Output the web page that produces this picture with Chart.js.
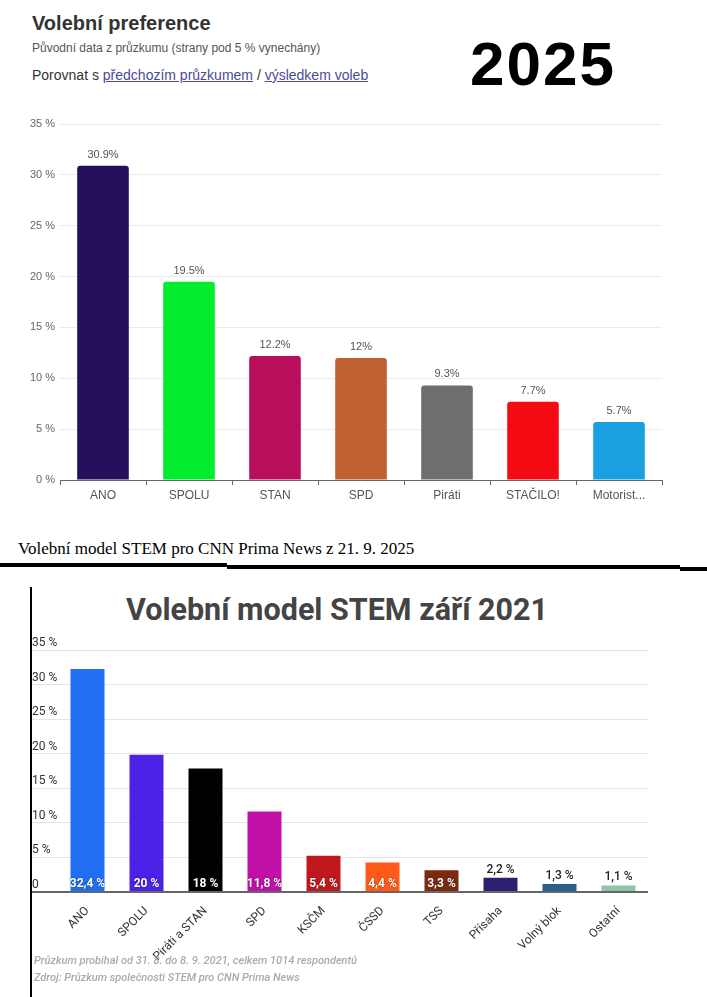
<!DOCTYPE html>
<html>
<head>
<meta charset="utf-8">
<script src="https://cdn.jsdelivr.net/npm/chart.js@4.4.1/dist/chart.umd.min.js"></script>
<style>
  html, body { margin: 0; padding: 0; background: #fff; }
  body { width: 707px; height: 997px; position: relative; overflow: hidden; font-family: "Liberation Sans", Arial, sans-serif; }
  .abs { position: absolute; }
  #title1 { left: 32px; top: 12px; font-size: 20px; font-weight: bold; color: #333; }
  #sub1 { left: 32px; top: 41px; font-size: 12px; color: #555; }
  #cmp1 { left: 32px; top: 67px; font-size: 14px; color: #333; }
  #cmp1 a { color: #4a4a9a; text-decoration: underline; }
  #year { left: 470px; top: 28px; font-size: 62px; font-weight: 900; color: #000; letter-spacing: 2px; }
  #serif { left: 18px; top: 539px; font-family: "Liberation Serif", "DejaVu Serif", serif; font-size: 17px; color: #000; }
  .bar { position: absolute; background: #000; }
  #vline { left: 30px; top: 587px; width: 2px; height: 410px; background: #000; }
  #title2 { left: 0; width: 674px; top: 592px; text-align: center; font-family: Roboto, sans-serif; font-size: 30.5px; font-weight: bold; color: #444; }
  .foot { left: 34px; font-family: Roboto, sans-serif; font-size: 11px; font-style: italic; font-weight: 500; color: #aaa; }
</style>
</head>
<body>
<div id="title1" class="abs">Volební preference</div>
<div id="sub1" class="abs">Původní data z průzkumu (strany pod 5 % vynechány)</div>
<div id="cmp1" class="abs">Porovnat s <a>předchozím průzkumem</a> / <a>výsledkem voleb</a></div>
<div id="year" class="abs">2025</div>
<canvas id="chart2025" class="abs" width="663" height="400" style="left:0;top:110px"></canvas>

<div id="serif" class="abs">Volební model STEM pro CNN Prima News z 21. 9. 2025</div>
<div class="bar" style="left:0;top:563px;width:227px;height:4px"></div>
<div class="bar" style="left:227px;top:565px;width:453px;height:4px"></div>
<div class="bar" style="left:680px;top:567px;width:27px;height:4px"></div>

<div id="vline" class="abs"></div>
<div id="title2" class="abs">Volební model STEM září 2021</div>
<canvas id="chart2021" class="abs" width="660" height="330" style="left:0;top:630px"></canvas>
<div class="abs foot" style="top:954px">Průzkum probíhal od 31. 8. do 8. 9. 2021, celkem 1014 respondentů</div>
<div class="abs foot" style="top:971px">Zdroj: Průzkum společnosti STEM pro CNN Prima News</div>

<script>
// 2025 – Volební preference
const parties2025 = ['ANO', 'SPOLU', 'STAN', 'SPD', 'Piráti', 'STAČILO!', 'Motorist...'];
const values2025 = [30.9, 19.5, 12.2, 12, 9.3, 7.7, 5.7];
const colors2025 = ['#26105c', '#00ec2c', '#b80f5c', '#c06030', '#6e6e6e', '#f50a14', '#1aa0e0'];

// 2021 – Volební model STEM září 2021
const parties2021 = ['ANO', 'SPOLU', 'Piráti a STAN', 'SPD', 'KSČM', 'ČSSD', 'TSS', 'Přísaha', 'Volný blok', 'Ostatní'];
const values2021 = [32.4, 20, 18, 11.8, 5.4, 4.4, 3.3, 2.2, 1.3, 1.1];
const colors2021 = ['#226ef2', '#4b22e6', '#000000', '#c010a8', '#c0181e', '#ff5a1a', '#7a2a10', '#2e1f70', '#2b5e8a', '#90c4a6'];

const yMax = 35;
const yStep = 5;

// simple value labels, no datalabels plugin available offline
const valueLabels = {
  id: 'valueLabels',
  afterDatasetsDraw(chart, args, opts) {
    const ctx = chart.ctx;
    const meta = chart.getDatasetMeta(0);
    const data = chart.data.datasets[0].data;
    ctx.save();
    ctx.textAlign = 'center';
    ctx.textBaseline = 'middle';
    meta.data.forEach((bar, i) => {
      const v = data[i];
      const text = opts.format(v);
      if (opts.inside && v >= opts.inside) {
        ctx.font = 'bold 12px Roboto, sans-serif';
        ctx.fillStyle = '#fff';
        ctx.shadowColor = 'rgba(0,0,0,0.5)';
        ctx.shadowBlur = 2;
        ctx.fillText(text, bar.x, bar.base - 7);
        ctx.shadowBlur = 0;
      } else {
        ctx.font = opts.font;
        ctx.fillStyle = opts.color;
        ctx.fillText(text, bar.x, bar.y - opts.gap);
      }
    });
    ctx.restore();
  }
};

new Chart(document.getElementById('chart2025'), {
  type: 'bar',
  data: {
    labels: parties2025,
    datasets: [{
      data: values2025,
      backgroundColor: colors2025,
      borderRadius: { topLeft: 3, topRight: 3 },
      borderSkipped: 'bottom',
      categoryPercentage: 1,
      barPercentage: 0.6
    }]
  },
  options: {
    responsive: false,
    animation: false,
    devicePixelRatio: 1,
    layout: { padding: { top: 14, left: 0, right: 1, bottom: 0 } },
    plugins: {
      legend: { display: false },
      tooltip: { enabled: false },
      valueLabels: {
        format: v => v + '%',
        font: '11px "Liberation Sans", Arial, sans-serif',
        color: '#555',
        gap: 11
      }
    },
    scales: {
      x: {
        grid: { offset: true, drawOnChartArea: false, tickLength: 5, color: '#666' },
        border: { color: '#666' },
        ticks: { color: '#555', font: { family: '"Liberation Sans", Arial', size: 12 }, padding: 3, maxRotation: 0 },
        afterFit(scale) { scale.height = 30; }
      },
      y: {
        min: 0, max: yMax,
        border: { display: false },
        grid: { color: '#ebebeb', drawTicks: false },
        ticks: { stepSize: yStep, color: '#666', font: { family: '"Liberation Sans", Arial', size: 11 }, padding: 5, callback: v => v + ' %' },
        afterFit(scale) { scale.width = 60; }
      }
    }
  },
  plugins: [valueLabels]
});

new Chart(document.getElementById('chart2021'), {
  type: 'bar',
  data: {
    labels: parties2021,
    datasets: [{
      data: values2021,
      backgroundColor: colors2021,
      borderColor: 'rgba(255,255,255,0.35)',
      borderWidth: 1,
      borderSkipped: 'bottom',
      categoryPercentage: 1,
      barPercentage: 0.61
    }]
  },
  options: {
    responsive: false,
    animation: false,
    devicePixelRatio: 1,
    layout: { padding: { top: 20, left: 32, right: 12, bottom: 0 } },
    plugins: {
      legend: { display: false },
      tooltip: { enabled: false },
      valueLabels: {
        format: v => String(v).replace('.', ',') + ' %',
        inside: 3,
        font: '500 12px Roboto, sans-serif',
        color: '#222',
        gap: 7
      }
    },
    scales: {
      x: {
        grid: { display: false },
        border: { display: false },
        ticks: { color: '#333', font: { family: 'Roboto', size: 12 }, padding: 4, minRotation: 45, maxRotation: 45 },
        afterFit(scale) { scale.height = 68; }
      },
      y: {
        min: 0, max: yMax,
        border: { display: false },
        grid: {
          tickLength: 26,
          color: c => c.tick && c.tick.value === 0 ? '#666' : '#e4e4e4',
          lineWidth: c => c.tick && c.tick.value === 0 ? 2 : 1
        },
        ticks: {
          stepSize: yStep, color: '#333', font: { family: 'Roboto', size: 12 },
          padding: -26, crossAlign: 'far', labelOffset: -7,
          callback: v => v === 0 ? '0' : v + ' %'
        },
        afterFit(scale) { scale.width = 26; }
      }
    }
  },
  plugins: [valueLabels]
});
</script>
</body>
</html>
